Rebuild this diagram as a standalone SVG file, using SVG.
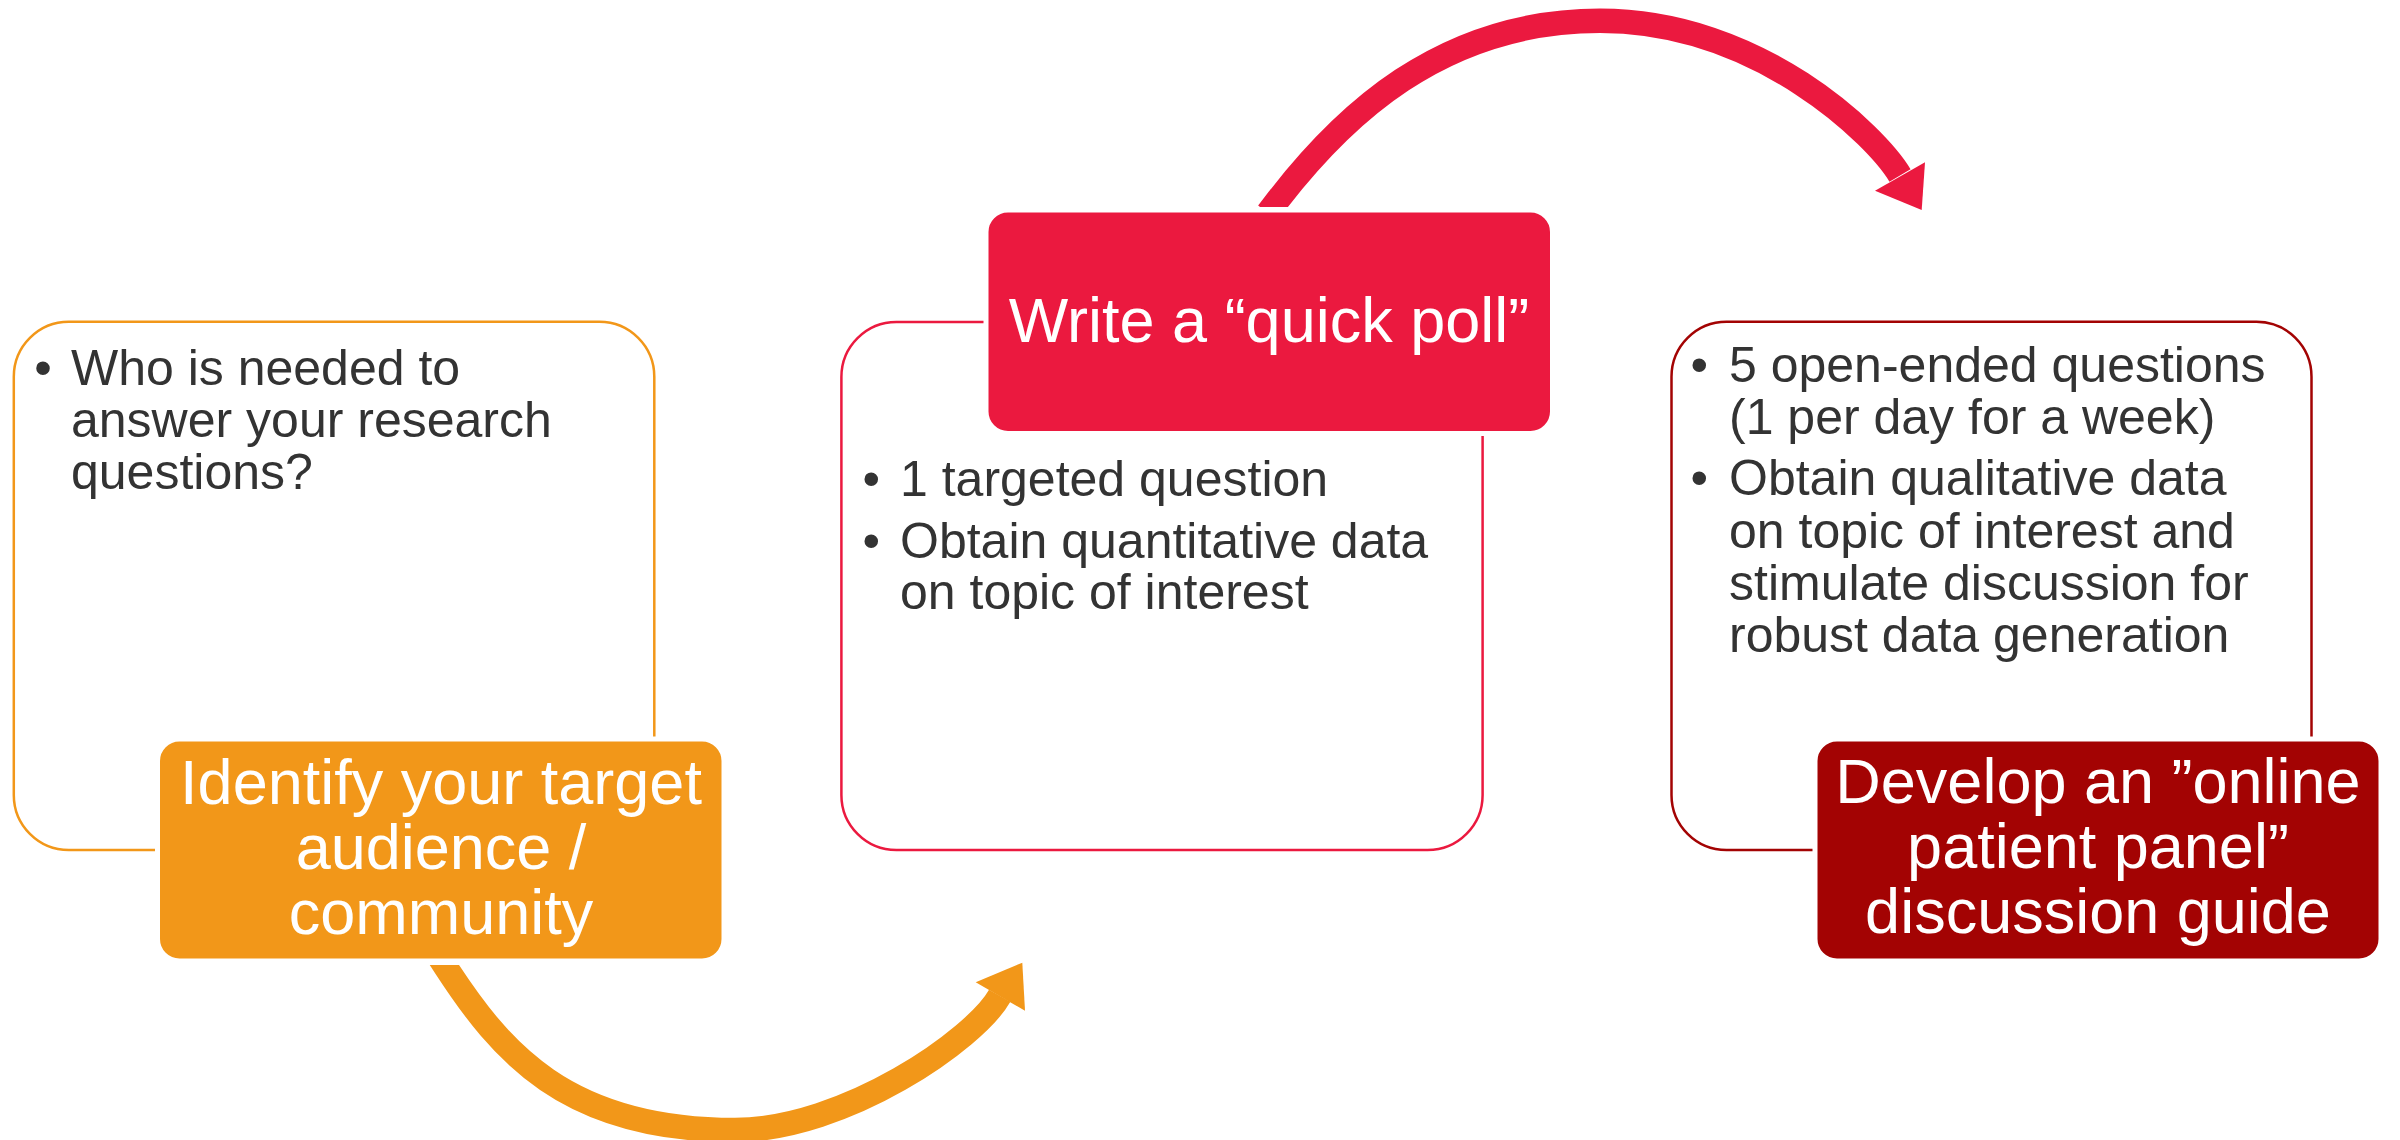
<svg xmlns="http://www.w3.org/2000/svg" width="2400" height="1140" viewBox="0 0 2400 1140">
  <style>
    .panel { fill: #ffffff; stroke-width: 2.5; }
    .body { font-family: "Liberation Sans", Arial, sans-serif; font-size: 50px; fill: #333333; }
    .title { font-family: "Liberation Sans", Arial, sans-serif; font-size: 63px; fill: #ffffff; text-anchor: middle; }
    .box { stroke: #ffffff; stroke-width: 5; }
    .shaft { fill: none; stroke-width: 24.5; stroke-linecap: butt; stroke-linejoin: round; }
  </style>
  <defs>
    <clipPath id="clipOrange"><rect x="0" y="965" width="2400" height="200"/></clipPath>
    <clipPath id="clipRed"><rect x="0" y="0" width="2400" height="207"/></clipPath>
  </defs>
  <rect width="2400" height="1140" fill="#ffffff"/>

  <g id="panel-audience">
    <rect class="panel" x="13.8" y="321.7" width="640.5" height="528.3" rx="55" ry="55" stroke="#F29719"/>
    <text class="body" x="34.3" y="384.6">•</text>
    <text class="body" x="71" y="384.6">Who is needed to</text>
    <text class="body" x="71" y="436.6">answer your research</text>
    <text class="body" x="71" y="488.6">questions?</text>
  </g>

  <g id="panel-poll">
    <rect class="panel" x="841.4" y="322" width="641.2" height="528" rx="55" ry="55" stroke="#EB193F"/>
    <text class="body" x="862.5" y="496">•</text>
    <text class="body" x="900" y="496">1 targeted question</text>
    <text class="body" x="862.5" y="558">•</text>
    <text class="body" x="900" y="558">Obtain quantitative data</text>
    <text class="body" x="900" y="609">on topic of interest</text>
  </g>

  <g id="panel-panel">
    <rect class="panel" x="1671.5" y="321.7" width="640" height="528.3" rx="55" ry="55" stroke="#A30303"/>
    <text class="body" x="1690.5" y="382.4">•</text>
    <text class="body" x="1729" y="382.4">5 open-ended questions</text>
    <text class="body" x="1729" y="434.4">(1 per day for a week)</text>
    <text class="body" x="1690.5" y="495">•</text>
    <text class="body" x="1729" y="495">Obtain qualitative data</text>
    <text class="body" x="1729" y="547.5">on topic of interest and</text>
    <text class="body" x="1729" y="600">stimulate discussion for</text>
    <text class="body" x="1729" y="652">robust data generation</text>
  </g>

  <g id="connectors">
    <g id="arrow-orange">
      <path class="shaft" stroke="#F29719" clip-path="url(#clipOrange)" d="M440,958.3 L445.5,966.7 C500.1,1050.5 565,1130 735,1130 C845,1130 975.1,1039.3 999.7,995.8"/>
      <polygon fill="#F29719" points="1022.3,962.7 1025,1010.7 975.7,982.3"/>
    </g>
    <g id="arrow-red">
      <path class="shaft" stroke="#EB193F" clip-path="url(#clipRed)" d="M1267.9,213 L1274,205 C1340.7,117.5 1440,20.8 1600,20.8 C1760,20.8 1877.1,136.8 1900,175.5"/>
      <polygon fill="#EB193F" points="1925,162.3 1921.7,210 1875,190.7"/>
    </g>
  </g>

  <g id="node-identify">
    <rect class="box" x="157.5" y="739" width="566.5" height="222" rx="22" ry="22" fill="#F29719"/>
    <text class="title" x="441" y="804">Identify your target</text>
    <text class="title" x="441" y="869">audience /</text>
    <text class="title" x="441" y="934">community</text>
  </g>

  <g id="node-quickpoll">
    <rect class="box" x="986" y="210" width="566.5" height="223.5" rx="22" ry="22" fill="#EB193F"/>
    <text class="title" x="1269" y="342">Write a “quick poll”</text>
  </g>

  <g id="node-develop">
    <rect class="box" x="1815" y="739" width="566" height="222" rx="22" ry="22" fill="#A30303"/>
    <text class="title" x="2098" y="803">Develop an ”online</text>
    <text class="title" x="2098" y="868">patient panel”</text>
    <text class="title" x="2098" y="933">discussion guide</text>
  </g>
</svg>
